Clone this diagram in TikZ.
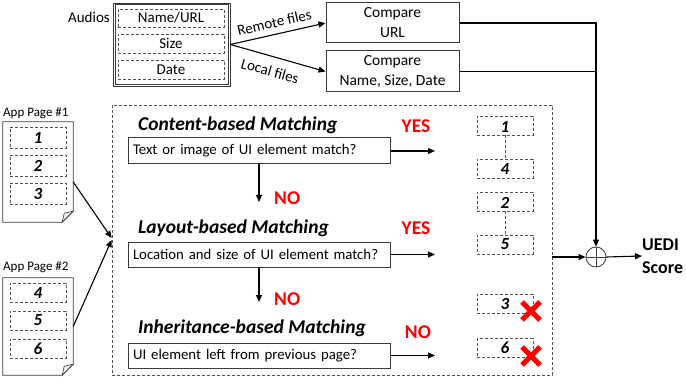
\documentclass[tikz,border=0pt]{standalone}
\usepackage{fontspec}
\setmainfont{Carlito}
\usetikzlibrary{arrows.meta}
\definecolor{bordc}{HTML}{3A3A3A}
\definecolor{dashc}{HTML}{505050}
\definecolor{redc}{HTML}{FF0000}
\begin{document}
\begin{tikzpicture}[x=1pt,y=-1pt,
  font=\fontsize{15}{17}\selectfont,
  dbox/.style={draw=dashc, line width=0.8pt, dash pattern=on 3pt off 2pt, minimum width=56pt, inner sep=0pt},
  sbox/.style={draw=bordc, line width=1pt, inner sep=0pt, align=center, font=\fontsize{15.5}{20}\selectfont},
  qbox/.style={draw=bordc, line width=1pt, minimum width=262pt, text width=252pt, inner xsep=5pt, inner ysep=0pt, align=left, font=\fontsize{14.8}{17}\selectfont},
  ttl/.style={font=\fontsize{19.5}{21}\selectfont\bfseries\itshape, anchor=west, inner sep=0pt},
  ans/.style={font=\fontsize{19.5}{21}\selectfont\bfseries, text=redc, inner sep=0pt},
  num/.style={font=\fontsize{17}{18}\selectfont\bfseries\itshape, inner sep=0pt},
  arr/.style={line width=1.1pt, -{Triangle[length=7pt,width=6pt]}},
  ln/.style={line width=1.1pt},
  xmark/.style={draw=redc, line width=5pt},
]
\useasboundingbox (0,0) rectangle (686,385);

% ---------- Audios ----------
\node[anchor=east, inner sep=0pt] (audlbl) at (110,17) {Audios};
\node[draw=bordc, line width=0.8pt, minimum width=117pt, minimum height=83pt, inner sep=0pt] (audio) at (171.5,44.5) {};
\draw[bordc, line width=0.6pt] ([xshift=2.2pt,yshift=-2.2pt]audio.north west) rectangle ([xshift=-2.2pt,yshift=2.2pt]audio.south east);
\node[dbox, minimum width=106pt, minimum height=18pt] (aname) at (171,18) {Name/URL};
\node[dbox, minimum width=106pt, minimum height=19pt] (asize) at (171,43.5) {Size};
\node[dbox, minimum width=106pt, minimum height=19pt] (adate) at (171,69.5) {Date};

\node[sbox, minimum width=133pt, minimum height=40pt] (cmpurl) at (392.5,23) {Compare\\URL};
\node[sbox, minimum width=133pt, minimum height=41pt] (cmpname) at (392.5,71.5) {Compare\\Name, Size, Date};

\draw[arr] (audio.east) -- (cmpurl.west) node[pos=0.49, above, sloped, inner sep=6pt] (rem) {Remote files};
\draw[arr] (audio.east) -- (cmpname.west) node[pos=0.46, below, sloped, inner sep=9pt] (loc) {Local files};

% ---------- sum ----------
\node[draw=bordc, line width=0.8pt, circle, minimum size=20pt, inner sep=0pt] (sum) at (596,257) {};
\draw[line width=0.8pt, bordc] (sum.north) -- (sum.south) (sum.west) -- (sum.east);
\draw[arr] (cmpurl.east) -| (sum.north);
\draw[ln] (cmpname.east) -- (cmpname.east -| sum.north);

\node[font=\fontsize{18}{23}\selectfont\bfseries, anchor=west, align=left, inner sep=0pt] (uedi) at (642,256) {UEDI\\Score};
\draw[arr] (sum.east) -- (uedi.west);

% ---------- big dashed box ----------
\node[draw=dashc, line width=0.8pt, dash pattern=on 3pt off 2pt, minimum width=440pt, minimum height=270pt, inner sep=0pt] (match) at (332,240) {};
\draw[arr] (match.east |- sum.west) -- (sum.west);

% ---------- app pages ----------
\node[anchor=west, inner sep=0pt, font=\fontsize{13}{15}\selectfont] (p1lbl) at (3,113) {App Page \#1};
\node[minimum width=70pt, minimum height=100pt, inner sep=0pt] (p1) at (38,172) {};
\draw[bordc, line width=0.8pt] (p1.north west) -- (p1.north east) -- ([yshift=11pt]p1.south east) -- ([xshift=-11pt]p1.south east) -- (p1.south west) -- cycle;
\draw[bordc, line width=0.6pt, fill=gray!15] ([yshift=11pt]p1.south east) -- ([xshift=-9pt,yshift=9pt]p1.south east) -- ([xshift=-11pt]p1.south east) -- cycle;
\node[dbox, minimum height=21pt] (b1) at (38,137.5) {};
\node[num] at (b1) {1};
\node[dbox, minimum height=21pt] (b2) at (38,165.5) {};
\node[num] at (b2) {2};
\node[dbox, minimum height=21pt] (b3) at (38,193.5) {};
\node[num] at (b3) {3};

\node[anchor=west, inner sep=0pt, font=\fontsize{13}{15}\selectfont] (p2lbl) at (3,267) {App Page \#2};
\node[minimum width=70pt, minimum height=97pt, inner sep=0pt] (p2) at (38,326.5) {};
\draw[bordc, line width=0.8pt] (p2.north west) -- (p2.north east) -- ([yshift=11pt]p2.south east) -- ([xshift=-11pt]p2.south east) -- (p2.south west) -- cycle;
\draw[bordc, line width=0.6pt, fill=gray!15] ([yshift=11pt]p2.south east) -- ([xshift=-9pt,yshift=9pt]p2.south east) -- ([xshift=-11pt]p2.south east) -- cycle;
\node[dbox, minimum height=19pt] (b4) at (38,292.5) {};
\node[num] at (b4) {4};
\node[dbox, minimum height=19pt] (b5) at (38,320.5) {};
\node[num] at (b5) {5};
\node[dbox, minimum height=19pt] (b6) at (38,348.5) {};
\node[num] at (b6) {6};

\draw[arr] ([yshift=-10pt]p1.east) -- ([yshift=2pt]match.west);
\draw[arr] (p2.east) -- (match.west);

% ---------- matching steps ----------
\node[ttl] (t1) at (138,125) {Content-based Matching};
\node[qbox, minimum height=26pt] (q1) at (259,151) {Text or image of UI element match?};
\node[ans] (yes1) at (416,126) {YES};
\coordinate (e1) at (435,151);
\draw[arr] (q1.east) -- (e1);
\coordinate (d1) at (259,202);
\draw[arr] (q1.south) -- (d1);
\node[ans, anchor=west] (no1) at (274,198) {NO};

\node[ttl] (t2) at (138,228) {Layout-based Matching};
\node[qbox, minimum height=25pt] (q2) at (259,254.5) {Location and size of UI element match?};
\node[ans] (yes2) at (416,228) {YES};
\coordinate (e2) at (435,254.5);
\draw[arr] (q2.east) -- (e2);
\coordinate (d2) at (259,302);
\draw[arr] (q2.south) -- (d2);
\node[ans, anchor=west] (no2) at (274,299) {NO};

\node[ttl] (t3) at (138,328) {Inheritance-based Matching};
\node[qbox, minimum height=25pt] (q3) at (259,355.5) {UI element left from previous page?};
\node[ans] (no3) at (418,332) {NO};
\coordinate (e3) at (435,355.5);
\draw[arr] (q3.east) -- (e3);

% ---------- results ----------
\node[dbox, minimum height=19pt] (r1) at (505,125.5) {};
\node[num] at ([yshift=-1pt]r1.center) {1};
\node[dbox, minimum height=19pt] (r4) at (505,168.5) {};
\node[num] at (r4) {4};
\draw[dashc, line width=0.8pt, dash pattern=on 3pt off 2pt] (r1.south) -- (r4.north);
\node[dbox, minimum height=19pt] (r2) at (505,201.5) {};
\node[num] at ([yshift=-1pt]r2.center) {2};
\node[dbox, minimum height=19pt] (r5) at (505,244.5) {};
\node[num] at (r5) {5};
\draw[dashc, line width=0.8pt, dash pattern=on 3pt off 2pt] (r2.south) -- (r5.north);
\node[dbox, minimum height=19pt] (r3) at (505,303.5) {};
\node[num] at (r3) {3};
\node[dbox, minimum height=19pt] (r6) at (505,348) {};
\node[num] at (r6) {6};

\draw[xmark] (522,302) -- (540,320) (540,302) -- (522,320);
\draw[xmark] (522,347) -- (540,365) (540,347) -- (522,365);
\end{tikzpicture}
\end{document}
